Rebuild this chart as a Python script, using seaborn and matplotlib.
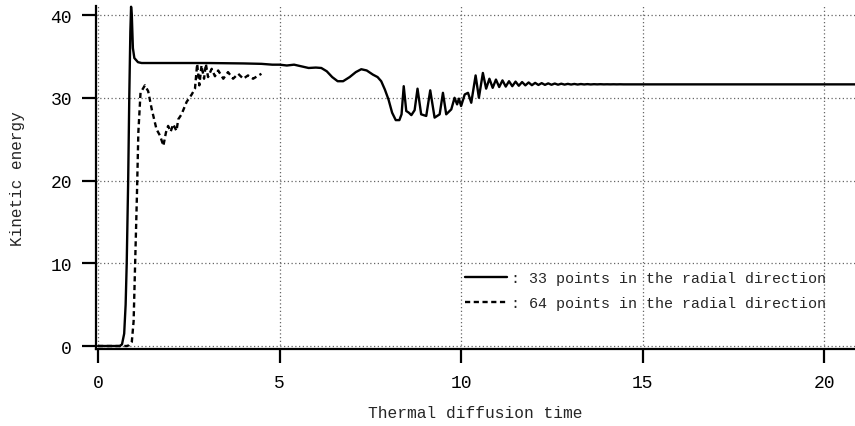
import numpy as np
import pandas as pd
import matplotlib
matplotlib.use("Agg")
import matplotlib.pyplot as plt
import seaborn as sns

# ---- data: 33 radial points (solid) ----
t33 = [0.0, 0.3, 0.6, 0.66, 0.72, 0.76, 0.79, 0.83, 0.86, 0.89, 0.91, 0.93, 0.96, 1.0, 1.1, 1.2,
       2.0, 3.0, 4.0, 4.5, 4.8, 5.0, 5.2, 5.4, 5.6, 5.8, 6.0, 6.15, 6.3, 6.45, 6.6, 6.75, 6.93,
       7.1, 7.25, 7.4, 7.57, 7.7, 7.8, 7.9, 8.0, 8.1, 8.2, 8.3, 8.36, 8.42, 8.49, 8.56, 8.63,
       8.72, 8.8, 8.9, 9.04, 9.15, 9.27, 9.41, 9.5, 9.59, 9.73, 9.82, 9.89, 9.94, 10.0, 10.1,
       10.19, 10.28, 10.4, 10.49, 10.6, 10.69, 10.78, 10.87, 10.96, 11.05, 11.14, 11.23, 11.32,
       11.41, 11.5, 11.59, 11.68, 11.77, 11.86, 11.95, 12.04, 12.13, 12.22, 12.31, 12.4, 12.49,
       12.58, 12.67, 12.76, 12.85, 12.94, 13.03, 13.12, 13.21, 13.3, 13.39, 13.48, 13.57, 13.66,
       13.75, 13.84, 13.93, 14.02, 14.11, 14.2, 14.29, 14.38, 14.47, 14.56, 14.65, 14.8, 16.0,
       18.0, 20.85]
ke33 = [0.0, 0.0, 0.0, 0.2, 1.5, 5.0, 10.0, 20.0, 30.0, 38.0, 41.0, 40.0, 36.0, 34.8, 34.3, 34.2,
        34.2, 34.2, 34.15, 34.1, 34.0, 34.0, 33.9, 34.0, 33.8, 33.6, 33.65, 33.6, 33.2, 32.5, 32.0,
        32.0, 32.5, 33.1, 33.45, 33.3, 32.8, 32.5, 32.0, 31.0, 29.8, 28.2, 27.3, 27.3, 28.0, 31.4,
        28.4, 28.2, 27.9, 28.5, 31.1, 28.0, 27.8, 30.9, 27.6, 28.0, 30.6, 28.0, 28.6, 30.0, 29.2,
        29.9, 29.0, 30.4, 30.6, 29.4, 32.7, 30.0, 33.0, 31.1, 32.3, 31.2, 32.2, 31.3, 32.1, 31.35,
        32.0, 31.4, 31.95, 31.45, 31.9, 31.5, 31.85, 31.52, 31.8, 31.55, 31.77, 31.56, 31.74, 31.57,
        31.72, 31.58, 31.7, 31.59, 31.68, 31.6, 31.67, 31.6, 31.66, 31.61, 31.65, 31.61, 31.64,
        31.62, 31.64, 31.62, 31.63, 31.62, 31.63, 31.62, 31.63, 31.62, 31.62, 31.62, 31.62, 31.62,
        31.62, 31.62]

# ---- data: 64 radial points (dashed) ----
t64 = [0.0, 0.5, 0.79, 0.86, 0.93, 0.98, 1.02, 1.07, 1.11, 1.17, 1.29, 1.38, 1.48, 1.61, 1.71,
       1.8, 1.87, 1.93, 2.0, 2.07, 2.16, 2.21, 2.3, 2.44, 2.58, 2.67, 2.73, 2.79, 2.85, 2.92,
       2.97, 3.03, 3.13, 3.22, 3.31, 3.45, 3.58, 3.72, 3.86, 4.0, 4.13, 4.27, 4.5]
ke64 = [0.0, 0.0, 0.0, 0.1, 0.5, 3.0, 9.7, 18.0, 25.8, 30.6, 31.5, 30.8, 28.6, 26.2, 25.4,
        24.2, 25.8, 26.6, 25.9, 26.8, 26.0, 27.4, 28.0, 29.5, 30.4, 31.1, 34.1, 31.5, 33.9, 32.3,
        34.1, 32.5, 33.5, 32.6, 33.3, 32.3, 33.1, 32.3, 32.9, 32.3, 32.7, 32.3, 32.9]

x_ticks = [0, 5, 10, 15, 20]
y_ticks = [0, 10, 20, 30, 40]
labels = [": 33 points in the radial direction", ": 64 points in the radial direction"]

df33 = pd.DataFrame({"t": t33, "ke": ke33})
df64 = pd.DataFrame({"t": t64, "ke": ke64})

sns.set_style("ticks")
plt.rcParams["font.family"] = ["Liberation Mono", "DejaVu Sans Mono"]

fig = plt.figure(figsize=(8.55, 4.27), dpi=100)
ax = fig.add_axes([95.5 / 855, 1 - 350 / 427, 1 - 95.5 / 855, (350 - 7) / 427])

sns.lineplot(data=df33, x="t", y="ke", ax=ax, color="black", lw=1.7, label=labels[0],
             sort=False, estimator=None)
sns.lineplot(data=df64, x="t", y="ke", ax=ax, color="black", lw=1.7, label=labels[1],
             sort=False, estimator=None)
ax.lines[1].set_linestyle((0, (2.2, 1.5)))
for ln in ax.lines:
    ln.set_clip_on(False)

ax.set_xlim(-0.07, 20.85)
ax.set_ylim(-0.36, 41.09)
ax.set_xticks(x_ticks)
ax.set_yticks(y_ticks)
ax.grid(True, color="#666666", linestyle=(0, (1, 2)), linewidth=0.9)
ax.set_axisbelow(True)

for s in ["top", "right"]:
    ax.spines[s].set_visible(False)
for s in ["left", "bottom"]:
    ax.spines[s].set_linewidth(1.6)
    ax.spines[s].set_color("black")
ax.tick_params(axis="both", direction="out", length=10, width=1.6, colors="black",
               labelsize=13)
ax.tick_params(axis="x", pad=8)
ax.tick_params(axis="y", pad=7)

ax.set_xlabel("Thermal diffusion time", fontsize=11.7, labelpad=10)
ax.set_ylabel("Kinetic energy", fontsize=11.5, labelpad=18)

leg = ax.legend(loc="upper left", bbox_to_anchor=(0.479, 0.245), frameon=False, fontsize=10.8,
                handlelength=2.8, handletextpad=0.25, labelspacing=0.72, borderaxespad=0)
for h in leg.legend_handles:
    h.set_linewidth(1.7)

fig.savefig("out.png", dpi=100)
